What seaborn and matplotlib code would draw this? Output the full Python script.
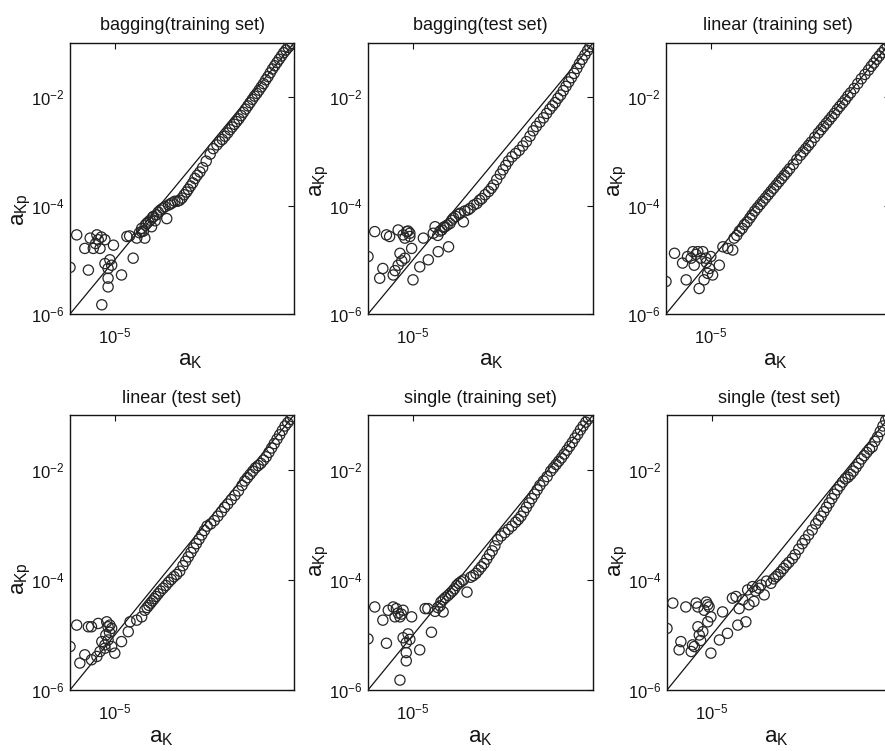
import numpy as np
import pandas as pd
import matplotlib
matplotlib.use("Agg")
import matplotlib.pyplot as plt
import seaborn as sns
from matplotlib.ticker import FixedLocator, NullLocator, LogFormatterMathtext

# ---- data: (log10 a_K, log10 a_Kp) ----
bagging_train = [
    (-6.0, -5.14), (-5.85, -4.54), (-5.67, -4.79), (-5.55, -4.60), (-5.48, -4.79), (-5.40, -4.54),
    (-5.37, -4.63), (-5.33, -4.79), (-5.22, -4.63), (-5.03, -4.73), (-5.59, -5.19), (-5.22, -5.07),
    (-5.11, -5.00), (-5.07, -5.10), (-5.15, -5.16), (-5.15, -5.34), (-5.15, -5.50), (-4.85, -5.28),
    (-5.29, -5.83), (-4.59, -4.97), (-4.73, -4.57), (-4.67, -4.56), (-4.51, -4.60), (-4.33, -4.60),
    (-4.40, -4.48), (-5.43, -4.70), (-5.30, -4.58),
    (-4.45, -4.50), (-4.40, -4.42), (-4.36, -4.47), (-4.32, -4.36), (-4.29, -4.33), (-4.25, -4.30),
    (-4.21, -4.27), (-4.18, -4.39), (-4.16, -4.22), (-4.14, -4.20), (-4.10, -4.28), (-4.07, -4.17),
    (-4.03, -4.12), (-3.98, -4.08), (-3.93, -4.05), (-3.88, -4.02), (-3.84, -4.24), (-3.80, -3.99),
    (-3.76, -3.97), (-3.72, -3.95), (-3.66, -3.92), (-3.60, -3.92), (-3.55, -3.90), (-3.50, -3.86),
    (-3.45, -3.80), (-3.40, -3.75), (-3.36, -3.70), (-3.31, -3.64), (-3.26, -3.58), (-3.21, -3.50),
    (-3.16, -3.44), (-3.10, -3.38), (-3.04, -3.30), (-2.96, -3.18), (-2.87, -3.05), (-2.80, -2.95),
    (-2.72, -2.88), (-2.66, -2.82), (-2.60, -2.78), (-2.54, -2.72), (-2.48, -2.66), (-2.43, -2.60),
    (-2.38, -2.55), (-2.33, -2.50), (-2.28, -2.45), (-2.23, -2.40), (-2.18, -2.34), (-2.13, -2.28),
    (-2.08, -2.22), (-2.03, -2.16), (-1.98, -2.10), (-1.93, -2.04), (-1.88, -1.98), (-1.83, -1.93),
    (-1.78, -1.87), (-1.73, -1.81), (-1.68, -1.75), (-1.63, -1.68), (-1.58, -1.62), (-1.53, -1.55),
    (-1.48, -1.48), (-1.43, -1.42), (-1.38, -1.36), (-1.33, -1.30), (-1.28, -1.24), (-1.23, -1.18),
    (-1.18, -1.13), (-1.13, -1.08), (-1.08, -1.04), (-1.04, -1.01),
]

bagging_test = [
    (-6.0, -4.94), (-5.85, -4.48), (-5.59, -4.54), (-5.52, -4.57), (-5.33, -4.45), (-5.22, -4.54),
    (-5.14, -4.48), (-5.07, -4.51), (-5.18, -4.60), (-5.07, -4.57), (-5.11, -4.47), (-5.67, -5.16),
    (-5.74, -5.34), (-5.44, -5.28), (-5.33, -5.10), (-5.29, -4.88), (-5.18, -4.97), (-5.03, -4.79),
    (-5.00, -5.37), (-4.85, -5.13), (-4.66, -5.00), (-4.44, -4.85), (-4.21, -4.76), (-4.77, -4.60),
    (-4.55, -4.51), (-4.51, -4.39), (-5.40, -5.20), (-5.25, -5.02),
    (-4.45, -4.55), (-4.40, -4.47), (-4.36, -4.45), (-4.32, -4.40), (-4.29, -4.39), (-4.24, -4.36),
    (-4.18, -4.33), (-4.14, -4.27), (-4.10, -4.23), (-4.05, -4.20), (-3.98, -4.16), (-3.95, -4.14),
    (-3.88, -4.30), (-3.85, -4.10), (-3.78, -4.08), (-3.73, -4.05), (-3.65, -3.99), (-3.58, -3.96),
    (-3.52, -3.90), (-3.47, -3.87), (-3.40, -3.80), (-3.32, -3.74), (-3.26, -3.68), (-3.21, -3.62),
    (-3.14, -3.52), (-3.06, -3.42), (-3.00, -3.34), (-2.94, -3.26), (-2.88, -3.18), (-2.80, -3.10),
    (-2.72, -3.04), (-2.64, -2.98), (-2.56, -2.90), (-2.48, -2.82), (-2.40, -2.72), (-2.33, -2.62),
    (-2.26, -2.54), (-2.18, -2.46), (-2.10, -2.38), (-2.03, -2.30), (-1.96, -2.22), (-1.90, -2.16),
    (-1.84, -2.10), (-1.78, -2.02), (-1.72, -1.96), (-1.66, -1.88), (-1.60, -1.80), (-1.54, -1.72),
    (-1.48, -1.64), (-1.42, -1.56), (-1.36, -1.47), (-1.30, -1.38), (-1.24, -1.30), (-1.18, -1.22),
    (-1.12, -1.14), (-1.07, -1.07), (-1.02, -1.02),
]

linear_train = [
    (-6.0, -5.40), (-5.81, -4.88), (-5.55, -5.37), (-5.63, -5.06), (-5.52, -4.94), (-5.40, -4.85),
    (-5.29, -4.85), (-5.18, -4.85), (-5.44, -4.97), (-5.37, -5.10), (-5.22, -4.97), (-5.11, -4.97),
    (-5.00, -4.94), (-5.26, -5.53), (-5.15, -5.37), (-5.07, -5.25), (-5.03, -5.16), (-4.96, -5.28),
    (-4.81, -5.10), (-5.33, -4.90), (-5.10, -5.05),
    (-4.73, -4.76), (-4.62, -4.79), (-4.51, -4.82), (-4.48, -4.60), (-4.42, -4.55), (-4.36, -4.47),
    (-4.30, -4.42), (-4.25, -4.35), (-4.19, -4.30), (-4.13, -4.23), (-4.08, -4.17), (-4.02, -4.10),
    (-3.96, -4.04), (-3.90, -3.98), (-3.84, -3.92), (-3.78, -3.86), (-3.72, -3.80), (-3.66, -3.74),
    (-3.60, -3.68), (-3.54, -3.62), (-3.48, -3.56), (-3.42, -3.50), (-3.36, -3.44), (-3.30, -3.38),
    (-3.24, -3.32), (-3.16, -3.24), (-3.08, -3.15), (-3.00, -3.07), (-2.94, -3.01), (-2.88, -2.95),
    (-2.82, -2.89), (-2.76, -2.83), (-2.68, -2.74), (-2.60, -2.66), (-2.54, -2.60), (-2.48, -2.54),
    (-2.42, -2.48), (-2.36, -2.42), (-2.30, -2.36), (-2.24, -2.30), (-2.18, -2.23), (-2.12, -2.17),
    (-2.06, -2.11), (-2.00, -2.05), (-1.94, -1.98), (-1.88, -1.92), (-1.80, -1.84), (-1.72, -1.75),
    (-1.64, -1.66), (-1.56, -1.58), (-1.48, -1.50), (-1.42, -1.43), (-1.36, -1.37), (-1.30, -1.30),
    (-1.24, -1.24), (-1.18, -1.18), (-1.12, -1.12), (-1.06, -1.06), (-1.01, -1.01),
]

linear_test = [
    (-6.0, -5.21), (-5.85, -4.82), (-5.59, -4.85), (-5.52, -4.85), (-5.37, -4.79), (-5.18, -4.76),
    (-5.11, -4.82), (-5.07, -4.88), (-5.15, -4.85), (-5.78, -5.51), (-5.67, -5.36), (-5.52, -5.45),
    (-5.40, -5.39), (-5.33, -5.30), (-5.29, -5.12), (-5.22, -5.18), (-5.15, -5.09), (-5.22, -5.24),
    (-5.07, -5.21), (-5.00, -5.33), (-4.85, -5.12), (-4.70, -4.94), (-5.12, -4.95), (-5.20, -5.00),
    (-4.66, -4.76), (-4.51, -4.73), (-4.40, -4.67), (-4.33, -4.55), (-4.28, -4.50), (-4.24, -4.46),
    (-4.20, -4.42), (-4.16, -4.38), (-4.12, -4.34), (-4.08, -4.30), (-4.03, -4.25), (-3.98, -4.20),
    (-3.92, -4.15), (-3.86, -4.10), (-3.80, -4.04), (-3.74, -3.99), (-3.68, -3.94), (-3.62, -3.90),
    (-3.55, -3.84), (-3.48, -3.74), (-3.42, -3.66), (-3.36, -3.58), (-3.30, -3.50), (-3.24, -3.42),
    (-3.18, -3.34), (-3.12, -3.26), (-3.06, -3.18), (-3.00, -3.10), (-2.94, -3.02), (-2.86, -2.98),
    (-2.78, -2.92), (-2.70, -2.84), (-2.62, -2.76), (-2.55, -2.68), (-2.48, -2.62), (-2.40, -2.54),
    (-2.32, -2.46), (-2.24, -2.38), (-2.16, -2.28), (-2.10, -2.20), (-2.04, -2.14), (-1.98, -2.08),
    (-1.92, -2.02), (-1.86, -1.96), (-1.80, -1.92), (-1.74, -1.88), (-1.68, -1.82), (-1.62, -1.76),
    (-1.56, -1.68), (-1.50, -1.60), (-1.44, -1.52), (-1.38, -1.44), (-1.32, -1.36), (-1.26, -1.28),
    (-1.20, -1.20), (-1.14, -1.14), (-1.08, -1.08), (-1.03, -1.03),
]

single_train = [
    (-6.0, -5.07), (-5.85, -4.49), (-5.67, -4.73), (-5.55, -4.55), (-5.44, -4.49), (-5.37, -4.52),
    (-5.40, -4.67), (-5.29, -4.67), (-5.22, -4.55), (-5.03, -4.67), (-5.59, -5.15), (-5.22, -5.05),
    (-5.11, -4.98), (-5.07, -5.08), (-5.15, -5.14), (-5.15, -5.32), (-5.15, -5.47), (-4.85, -5.27),
    (-5.29, -5.82), (-4.59, -4.95), (-4.73, -4.52), (-4.67, -4.52), (-4.51, -4.57), (-4.33, -4.58),
    (-4.40, -4.47), (-5.33, -4.60), (-5.26, -4.62),
    (-4.45, -4.50), (-4.38, -4.40), (-4.33, -4.36), (-4.28, -4.32), (-4.22, -4.28), (-4.17, -4.24),
    (-4.12, -4.20), (-4.08, -4.16), (-4.03, -4.10), (-3.98, -4.06), (-3.93, -4.03), (-3.88, -4.00),
    (-3.80, -4.22), (-3.72, -3.95), (-3.66, -3.92), (-3.60, -3.88), (-3.54, -3.82), (-3.48, -3.76),
    (-3.42, -3.70), (-3.36, -3.62), (-3.30, -3.54), (-3.24, -3.47), (-3.18, -3.38), (-3.12, -3.27),
    (-3.04, -3.20), (-2.96, -3.14), (-2.88, -3.08), (-2.80, -3.02), (-2.72, -2.95), (-2.66, -2.90),
    (-2.60, -2.84), (-2.54, -2.76), (-2.48, -2.68), (-2.42, -2.60), (-2.36, -2.52), (-2.30, -2.44),
    (-2.24, -2.36), (-2.18, -2.28), (-2.10, -2.20), (-2.02, -2.12), (-1.94, -2.02), (-1.88, -1.96),
    (-1.82, -1.90), (-1.76, -1.84), (-1.70, -1.78), (-1.64, -1.71), (-1.58, -1.64), (-1.52, -1.57),
    (-1.46, -1.50), (-1.40, -1.42), (-1.34, -1.35), (-1.28, -1.27), (-1.22, -1.20), (-1.16, -1.13),
    (-1.10, -1.07), (-1.05, -1.02),
]

single_test = [
    (-6.0, -4.88), (-5.87, -4.42), (-5.58, -4.49), (-5.35, -4.42), (-5.31, -4.49), (-5.09, -4.45),
    (-5.06, -4.49), (-5.17, -4.55), (-5.12, -4.40), (-5.69, -5.12), (-5.73, -5.27), (-5.43, -5.18),
    (-5.31, -4.85), (-5.28, -5.00), (-5.20, -4.94), (-5.09, -4.76), (-5.02, -4.67), (-5.46, -5.30),
    (-5.39, -5.21), (-5.02, -5.33), (-4.83, -5.09), (-4.65, -4.97), (-4.42, -4.82), (-4.24, -4.76),
    (-4.76, -4.58), (-4.54, -4.33), (-4.46, -4.30), (-4.31, -4.36), (-4.39, -4.52), (-4.17, -4.45),
    (-4.06, -4.39), (-5.25, -5.10),
    (-4.20, -4.18), (-4.09, -4.12), (-3.83, -4.27), (-3.90, -4.09), (-3.68, -4.06), (-3.57, -3.94),
    (-3.46, -3.85), (-3.34, -3.73), (-3.20, -3.61), (-4.02, -4.20), (-3.95, -4.15), (-3.78, -4.02),
    (-3.62, -3.98), (-3.52, -3.90), (-3.40, -3.79), (-3.28, -3.68), (-3.14, -3.54), (-3.06, -3.44),
    (-2.98, -3.34), (-2.92, -3.27), (-2.84, -3.18), (-2.76, -3.09), (-2.68, -2.98), (-2.62, -2.91),
    (-2.56, -2.84), (-2.50, -2.76), (-2.44, -2.68), (-2.38, -2.60), (-2.32, -2.52), (-2.26, -2.44),
    (-2.20, -2.36), (-2.14, -2.29), (-2.08, -2.22), (-2.02, -2.16), (-1.96, -2.13), (-1.90, -2.08),
    (-1.84, -2.02), (-1.78, -1.95), (-1.72, -1.88), (-1.66, -1.80), (-1.60, -1.74), (-1.54, -1.68),
    (-1.48, -1.62), (-1.42, -1.58), (-1.36, -1.48), (-1.30, -1.40), (-1.24, -1.30), (-1.18, -1.20),
    (-1.12, -1.10), (-1.06, -1.04), (-1.02, -1.00),
]

titles = ["bagging(training set)", "bagging(test set)", "linear (training set)",
          "linear (test set)", "single (training set)", "single (test set)"]
panels = [bagging_train, bagging_test, linear_train, linear_test, single_train, single_test]
diag = [1e-6, 1e-1]
x_ticks = [1e-5]
y_ticks = [1e-6, 1e-4, 1e-2]

# ---- style ----
sns.set_style("white")
plt.rcParams["font.family"] = ["Liberation Sans", "DejaVu Sans"]
plt.rcParams["mathtext.fontset"] = "custom"
plt.rcParams["mathtext.rm"] = "Liberation Sans"
plt.rcParams["mathtext.it"] = "Liberation Sans"
plt.rcParams["mathtext.bf"] = "Liberation Sans:bold"

W, H = 885, 751
fig = plt.figure(figsize=(W / 100, H / 100), dpi=100)
fig.patch.set_facecolor("white")

lefts = [70, 368, 666, 70, 368, 667]
widths = [224, 225, 224, 224, 225, 224]
tops = [43, 43, 43, 415, 415, 415]
bottoms = [314, 314, 314, 690, 690, 690]
xlab_x = [0.536, 0.547, 0.487, 0.406, 0.498, 0.487]
ylab_y = [0.387, 0.494, 0.494, 0.405, 0.471, 0.471]
title_pad = [9.5, 9.5, 9.5, 8.5, 8.5, 8.5]

ink = "#141414"
for i, (pts, title) in enumerate(zip(panels, titles)):
    arr = np.array(pts)
    df = pd.DataFrame({"aK": 10.0 ** arr[:, 0], "aKp": 10.0 ** arr[:, 1]})
    ax = fig.add_axes([lefts[i] / W, (H - bottoms[i]) / H, widths[i] / W,
                       (bottoms[i] - tops[i]) / H])
    ax.set_xscale("log")
    ax.set_yscale("log")
    ax.plot(diag, diag, color=ink, lw=0.9, zorder=2)
    sns.scatterplot(data=df, x="aK", y="aKp", ax=ax, marker="o", s=54,
                    linewidth=0.9, zorder=3, legend=False)
    for coll in ax.collections:
        coll.set_facecolor("none")
        coll.set_edgecolor("#262626")
    ax.set_xlim(1e-6, 1e-1)
    ax.set_ylim(1e-6, 1e-1)
    ax.xaxis.set_major_locator(FixedLocator(x_ticks))
    ax.yaxis.set_major_locator(FixedLocator(y_ticks))
    ax.xaxis.set_minor_locator(NullLocator())
    ax.yaxis.set_minor_locator(NullLocator())
    ax.xaxis.set_major_formatter(LogFormatterMathtext())
    ax.yaxis.set_major_formatter(LogFormatterMathtext())
    ax.tick_params(axis="both", which="major", direction="in", length=4, width=0.8,
                   top=True, right=True, labelsize=12, colors=ink)
    ax.tick_params(axis="x", pad=9)
    ax.tick_params(axis="y", pad=4)
    for sp in ax.spines.values():
        sp.set_color(ink)
        sp.set_linewidth(1.0)
    ax.set_title(title, fontsize=13, color=ink, pad=title_pad[i])
    ax.set_xlabel(r"$\mathregular{a_K}$", fontsize=16, color=ink, va="center", ha="center")
    ax.set_ylabel(r"$\mathregular{a_{Kp}}$", fontsize=16, color=ink, va="center", ha="center")
    ax.xaxis.set_label_coords(xlab_x[i], -0.173)
    ax.yaxis.set_label_coords(-0.214, ylab_y[i])
    ax.grid(False)

fig.savefig("out.png", dpi=100, facecolor="white")
